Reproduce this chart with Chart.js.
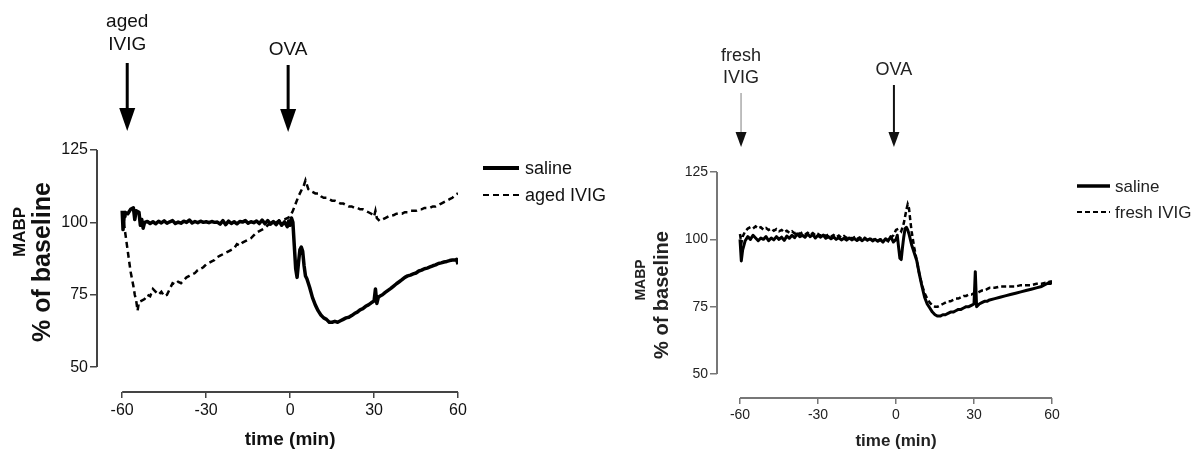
<!DOCTYPE html>
<html>
<head>
<meta charset="utf-8">
<script src="https://cdn.jsdelivr.net/npm/chart.js@4.4.1/dist/chart.umd.min.js"></script>
<style>
html, body { margin: 0; padding: 0; background: #fff; }
#wrap { position: relative; width: 1199px; height: 450px; overflow: hidden; }
canvas { position: absolute; top: 0; }
#left { left: 0; }
#right { left: 625px; }
</style>
</head>
<body>
<div id="wrap">
  <canvas id="left" width="625" height="450"></canvas>
  <canvas id="right" width="574" height="450"></canvas>
</div>
<script>
// ticks
const xTicks = [-60, -30, 0, 30, 60];
const yTicks = [50, 75, 100, 125];

// left panel: [time (min), MABP % of baseline]
const leftSaline = [
  [-60,104],[-59.7,97.5],[-59.3,102],[-59,103.5],[-58,103],[-57,104.5],[-56,105],[-55.5,101],[-55,104],[-54,103.5],
  [-53.5,99],[-53,101],[-52.5,98],[-52,100],[-51,100.3],[-50,99.6],[-49,100.2],[-48,99.5],[-47,100.4],[-46,99.8],
  [-45,100.5],[-44,99.7],[-43,100.2],[-42,100.6],[-41,99.6],[-40,100.1],[-39,99.7],[-38,100.4],[-37,100],[-36,100.8],
  [-35,99.8],[-34,100.3],[-33,99.9],[-32,100.4],[-31,100],[-30,100.2],[-29,99.9],[-28,100.3],[-27,100],[-26,100.1],
  [-25,99.4],[-24,100.6],[-23,99.2],[-22,100.4],[-21,99.6],[-20,100.2],[-19,99.5],[-18,100.3],[-17,100.1],[-16,100.6],
  [-15,99.7],[-14,100.2],[-13,99.9],[-12,100.5],[-11,99.6],[-10,100.8],[-9,99.5],[-8,100.6],[-7,99.4],[-6,100.3],
  [-5,99.2],[-4,100.5],[-3,99],[-2,100.2],[-1,98.5],[-0.5,100.5],[0,99],[0.5,101.5],[1,100],[1.5,92],
  [2,84],[2.5,81],[3,86],[3.5,90.5],[4,91.5],[4.5,90],[5,85],[5.5,81.5],[6,80.5],[7,77.5],
  [8,74],[9,71.5],[10,69.5],[11,68],[12,67],[13,66.5],[14,65.5],[15,65.5],[16,65.8],[17,65.5],
  [18,66],[19,66.5],[20,67],[21,67.2],[22,67.8],[23,68.5],[24,69],[25,69.8],[26,70.2],[27,71],
  [28,71.5],[29,72.2],[30,72.8],[30.5,77],[31,72],[31.5,74],[32,74.5],[33,75],[34,75.8],[35,76.5],
  [36,77.2],[37,78],[38,78.8],[39,79.5],[40,80.2],[41,81],[42,81.5],[43,81.8],[44,82.2],[45,82.5],
  [46,83.2],[47,83.5],[48,84],[49,84.2],[50,84.6],[51,85],[52,85.3],[53,85.8],[54,86],[55,86.3],
  [56,86.5],[57,86.8],[58,87],[59,87],[59.5,87.2],[60,85.5]
];
const leftAgedIvig = [
  [-60,103.5],[-59.5,101],[-59,97],[-58,90],[-57,83],[-56,78],[-55.5,75],[-55,73],[-54.5,69.5],[-54,72.5],
  [-53,73],[-52,73.5],[-51,75],[-50,74.5],[-49,77],[-48,76],[-47,75],[-46,76],[-45,74.5],[-44,75],
  [-43,77],[-42,79],[-41,78.5],[-40,79.5],[-39,79],[-38,80],[-37,81],[-36,81.5],[-35,82],[-34,82.5],
  [-33,83.5],[-32,84],[-31,84.5],[-30,85.5],[-29,86],[-28,86.5],[-27,87],[-26,88],[-25,88.5],[-24,89],
  [-23,89.5],[-22,90],[-21,90.5],[-20,91],[-19,92.5],[-18,92],[-17,93],[-16,93.5],[-15,94],[-14,94.5],
  [-13,95.5],[-12,96.5],[-11,97],[-10,97.5],[-9,98],[-8,99],[-7,99.5],[-6,99.5],[-5,100],[-4,100.5],
  [-3,101],[-2,101],[-1,101.5],[0,102],[1,104],[2,106.5],[3,109],[4,111],[5,113],[5.5,114.5],
  [6,113],[6.5,111.5],[7,111],[8,110.5],[9,110],[10,110],[11,109],[12,108.5],[13,108.5],[14,108],
  [15,107.5],[16,107.5],[17,107],[18,106.5],[19,106.5],[20,106],[21,105.5],[22,105.5],[23,105],[24,105],
  [25,104.5],[26,104.5],[27,104],[28,103.5],[29,103],[30,102],[30.5,104],[31,101.5],[32,100.5],[33,101],
  [34,101.5],[35,102],[36,102.5],[37,102.5],[38,103],[39,103],[40,103],[41,103.5],[42,103.5],[43,104],
  [44,104],[45,104],[46,104.5],[47,104.5],[48,105],[49,105],[50,105],[51,105.5],[52,105.5],[53,106],
  [54,106.5],[55,107],[56,107.5],[57,108],[58,108.5],[59,109.5],[60,110]
];

// right panel
const rightSaline = [
  [-60,100],[-59.5,92],[-59,96],[-58,99.5],[-57,101],[-56,100],[-55,101.5],[-54,100.5],[-53,99.5],[-52,100.5],
  [-51,100],[-50,101],[-49,99.5],[-48,100.5],[-47,99.8],[-46,101],[-45,100],[-44,100.8],[-43,99.6],[-42,101.2],
  [-41,100.4],[-40,101.5],[-39,100.6],[-38,102],[-37,101],[-36,101.5],[-35,100.8],[-34,102],[-33,101],[-32,101.8],
  [-31,100.5],[-30,101.5],[-29,100.8],[-28,101.6],[-27,100.4],[-26,101],[-25,100.2],[-24,100.9],[-23,100],[-22,100.6],
  [-21,99.8],[-20,100.4],[-19,99.7],[-18,100.5],[-17,99.8],[-16,100.3],[-15,99.6],[-14,100.2],[-13,99.5],[-12,100.3],
  [-11,99.7],[-10,100.2],[-9,99.4],[-8,100],[-7,99.3],[-6,99.9],[-5,99],[-4,100.2],[-3,99.5],[-2,101],
  [-1,99],[0,100],[0.5,101.5],[1,97],[1.5,93],[2,92.5],[2.5,97],[3,101],[3.5,104],[4,104.5],
  [4.5,103.5],[5,102],[6,98],[7,95],[8,92],[9,87],[10,82.5],[11,78.5],[12,76],[13,74.5],
  [14,73],[15,72],[16,71.5],[17,71.5],[18,72],[19,72],[20,72.5],[21,73],[22,73],[23,73.5],
  [24,74],[25,74],[26,74.5],[27,75],[28,75],[29,75.5],[30,76],[30.5,88],[31,75],[32,76],
  [33,76.5],[34,77],[35,77],[36,77.5],[38,78],[40,78.5],[42,79],[44,79.5],[46,80],[48,80.5],
  [50,81],[52,81.5],[54,82],[56,82.5],[58,83.5],[59,84],[60,83.5]
];
const rightFreshIvig = [
  [-60,102],[-59.5,98.5],[-59,101],[-58,103],[-57,104],[-56,104.5],[-55,104],[-54,104.8],[-53,104],[-52,104.5],
  [-51,103.6],[-50,104.2],[-49,103.5],[-48,104],[-47,103.2],[-46,103.8],[-45,103],[-44,103.5],[-43,102.6],[-42,103.2],
  [-41,102.4],[-40,103],[-39,102.2],[-38,102.8],[-37,102],[-36,102.6],[-35,101.8],[-34,102.4],[-33,101.6],[-32,102.3],
  [-31,101.5],[-30,102],[-29,101.3],[-28,102],[-27,101.2],[-26,101.8],[-25,101],[-24,101.6],[-23,100.8],[-22,101.4],
  [-21,100.6],[-20,101.2],[-19,100.5],[-18,101],[-17,100.3],[-16,100.8],[-15,100.2],[-14,100.7],[-13,100],[-12,100.6],
  [-11,99.8],[-10,100.4],[-9,99.7],[-8,100.2],[-7,99.6],[-6,100],[-5,99.5],[-4,100],[-3,99.3],[-2,100.5],
  [-1,101.5],[0,103.5],[1,104],[2,103],[3,106],[4,111],[4.5,113],[5,111.5],[5.5,107],[6,103],
  [7,97],[8,92],[9,87],[10,83],[11,80],[12,78],[13,76.5],[14,75.5],[15,75],[16,75],
  [17,75.5],[18,76],[19,76.5],[20,77],[21,77],[22,77.5],[23,78],[24,78],[25,78.5],[26,79],
  [27,79],[28,79.5],[29,79.5],[30,80],[31,80],[32,80.5],[33,81],[34,81],[35,81.5],[36,82],
  [38,82],[40,82.5],[42,82.5],[44,82.5],[46,82.5],[48,83],[50,83],[52,83],[54,83.5],[56,83.5],
  [58,84],[60,84.5]
];

const FONT = '"Liberation Sans", Arial, sans-serif';

const toXY = arr => arr.map(p => ({ x: p[0], y: p[1] }));

// draws the offset axes, titles, arrows and legend
const figurePlugin = {
  id: 'figure',
  afterDraw(chart, args, o) {
    const ctx = chart.ctx, xs = chart.scales.x, ys = chart.scales.y, a = chart.chartArea;
    ctx.save();

    ctx.strokeStyle = o.axisColor;
    ctx.lineWidth = o.axisWidth;
    ctx.beginPath();
    ctx.moveTo(a.left, ys.getPixelForValue(yTicks[0]));
    ctx.lineTo(a.left, ys.getPixelForValue(yTicks[yTicks.length - 1]));
    ctx.moveTo(xs.getPixelForValue(xTicks[0]), a.bottom);
    ctx.lineTo(xs.getPixelForValue(xTicks[xTicks.length - 1]), a.bottom);
    ctx.stroke();

    ctx.fillStyle = o.textColor;
    ctx.textAlign = 'center';
    ctx.textBaseline = 'middle';

    // y title
    o.yTitle.forEach(t => {
      ctx.save();
      ctx.translate(t.x, t.y);
      ctx.rotate(-Math.PI / 2);
      ctx.font = 'bold ' + t.size + 'px ' + FONT;
      ctx.fillText(t.text, 0, 0);
      ctx.restore();
    });

    // x title
    ctx.font = 'bold ' + o.xTitle.size + 'px ' + FONT;
    ctx.fillText(o.xTitle.text, xs.getPixelForValue(0), o.xTitle.y);

    // event arrows
    o.events.forEach(ev => {
      const x = xs.getPixelForValue(ev.t);
      ctx.font = ev.size + 'px ' + FONT;
      ctx.fillStyle = o.textColor;
      ev.lines.forEach((s, i) => ctx.fillText(s, x, ev.ty[i]));
      ctx.strokeStyle = ev.color;
      ctx.lineWidth = ev.width;
      ctx.beginPath();
      ctx.moveTo(x, ev.y1);
      ctx.lineTo(x, ev.y2 - ev.head);
      ctx.stroke();
      ctx.fillStyle = ev.headColor;
      ctx.beginPath();
      ctx.moveTo(x - ev.half, ev.y2 - ev.head);
      ctx.lineTo(x + ev.half, ev.y2 - ev.head);
      ctx.lineTo(x, ev.y2);
      ctx.closePath();
      ctx.fill();
    });

    // legend
    const lg = o.legend;
    chart.data.datasets.forEach((ds, i) => {
      const y = lg.y + i * lg.dy;
      ctx.strokeStyle = ds.borderColor;
      ctx.lineWidth = lg.widths[i];
      ctx.setLineDash(ds.borderDash || []);
      ctx.beginPath();
      ctx.moveTo(lg.x, y);
      ctx.lineTo(lg.x + lg.sample, y);
      ctx.stroke();
      ctx.setLineDash([]);
      ctx.fillStyle = o.textColor;
      ctx.textAlign = 'left';
      ctx.font = lg.size + 'px ' + FONT;
      ctx.fillText(ds.label, lg.x + lg.sample + lg.gap, y + 1);
    });
    ctx.restore();
  }
};

function makeChart(id, c) {
  return new Chart(document.getElementById(id), {
    type: 'line',
    data: {
      datasets: [
        {
          label: 'saline',
          data: toXY(c.saline),
          borderColor: '#000',
          borderWidth: c.salineWidth,
          pointRadius: 0,
          tension: 0,
          borderJoinStyle: 'round'
        },
        {
          label: c.ivigLabel,
          data: toXY(c.ivig),
          borderColor: '#000',
          borderWidth: c.ivigWidth,
          borderDash: c.dash,
          pointRadius: 0,
          tension: 0
        }
      ]
    },
    options: {
      responsive: false,
      animation: false,
      layout: { padding: c.padding },
      scales: {
        x: {
          type: 'linear',
          min: c.xMin,
          max: 60,
          afterBuildTicks: s => { s.ticks = xTicks.map(v => ({ value: v })); },
          afterFit: s => { s.height = c.xHeight; },
          border: { display: false },
          grid: { drawOnChartArea: false, drawTicks: true, tickLength: 6, color: c.axisColor, lineWidth: 1.5 },
          ticks: { font: { size: c.tickSize, family: FONT }, color: c.textColor, padding: 3, maxRotation: 0, autoSkip: false, callback: v => String(v) }
        },
        y: {
          min: c.yMin,
          max: 125,
          afterBuildTicks: s => { s.ticks = yTicks.map(v => ({ value: v })); },
          afterFit: s => { s.width = c.yWidth; },
          border: { display: false },
          grid: { drawOnChartArea: false, drawTicks: true, tickLength: 7, color: c.axisColor, lineWidth: 1.5 },
          ticks: { font: { size: c.tickSize, family: FONT }, color: c.textColor, padding: 2, callback: v => String(v) }
        }
      },
      plugins: {
        legend: { display: false },
        tooltip: { enabled: false },
        figure: {
          axisColor: c.axisColor,
          axisWidth: 2,
          textColor: c.textColor,
          yTitle: c.yTitle,
          xTitle: c.xTitle,
          events: c.events,
          legend: c.legend
        }
      }
    },
    plugins: [figurePlugin]
  });
}

makeChart('left', {
  saline: leftSaline,
  ivig: leftAgedIvig,
  ivigLabel: 'aged IVIG',
  salineWidth: 3.5,
  ivigWidth: 2.5,
  dash: [6, 4],
  xMin: -69,
  yMin: 41.4,
  padding: { top: 150, right: 167, left: 0, bottom: 0 },
  xHeight: 58,
  yWidth: 97,
  tickSize: 16,
  axisColor: '#444',
  textColor: '#111',
  yTitle: [
    { text: 'MABP', size: 17, x: 20, y: 232 },
    { text: '% of baseline', size: 25, x: 43, y: 262 }
  ],
  xTitle: { text: 'time (min)', size: 19, y: 440 },
  events: [
    { t: -58.2, lines: ['aged', 'IVIG'], ty: [22, 45], size: 19, y1: 63, y2: 131, head: 23, half: 8, width: 3, color: '#000', headColor: '#000' },
    { t: -0.7, lines: ['OVA'], ty: [50], size: 19, y1: 65, y2: 132, head: 23, half: 8, width: 3, color: '#000', headColor: '#000' }
  ],
  legend: { x: 483, y: 168, dy: 27, sample: 36, gap: 6, size: 18, widths: [4, 2] }
});

makeChart('right', {
  saline: rightSaline,
  ivig: rightFreshIvig,
  ivigLabel: 'fresh IVIG',
  salineWidth: 3,
  ivigWidth: 2.5,
  dash: [5, 3],
  xMin: -68.85,
  yMin: 41.1,
  padding: { top: 172, right: 147, left: 0, bottom: 0 },
  xHeight: 52,
  yWidth: 92,
  tickSize: 14,
  axisColor: '#777',
  textColor: '#222',
  yTitle: [
    { text: 'MABP', size: 14, x: 16, y: 280 },
    { text: '% of baseline', size: 20, x: 37, y: 295 }
  ],
  xTitle: { text: 'time (min)', size: 17, y: 441 },
  events: [
    { t: -59.6, lines: ['fresh', 'IVIG'], ty: [56, 78], size: 18, y1: 93, y2: 147, head: 15, half: 5.5, width: 1.5, color: '#aaa', headColor: '#111' },
    { t: -0.8, lines: ['OVA'], ty: [70], size: 18, y1: 85, y2: 147, head: 15, half: 5.5, width: 2, color: '#111', headColor: '#111' }
  ],
  legend: { x: 452, y: 186, dy: 26, sample: 33, gap: 5, size: 17, widths: [3.5, 2] }
});
</script>
</body>
</html>
